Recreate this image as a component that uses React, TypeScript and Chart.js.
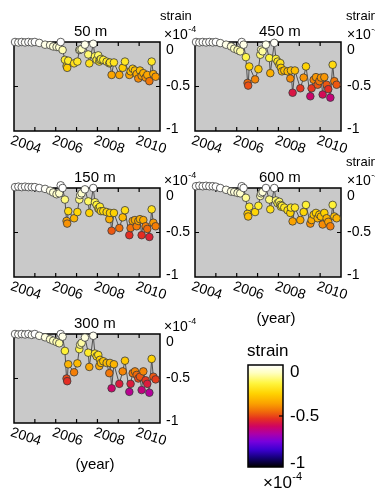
import React, { useEffect, useRef } from 'react';
import { Chart, registerables } from 'chart.js';

Chart.register(...registerables);

const FONT = "'Liberation Sans', Arial, Helvetica, sans-serif";
Chart.defaults.font.family = FONT;

// ---------------- data ----------------
const dates = [
  2003.05, 2003.21, 2003.37, 2003.53, 2003.69, 2003.85, 2004.0,
  2004.21, 2004.49, 2004.73, 2004.88, 2005.04, 2005.17,
  2005.24, 2005.33,
  2005.44, 2005.52, 2005.55, 2005.6,
  2005.88, 2006.04, 2006.13, 2006.17, 2006.24,
  2006.4, 2006.56, 2006.61, 2006.8,
  2006.88, 2006.96, 2007.04, 2007.09, 2007.12, 2007.17, 2007.28,
  2007.44, 2007.57, 2007.6, 2007.68, 2007.79,
  2008.05, 2008.21, 2008.32,
  2008.53, 2008.59, 2008.69, 2008.8, 2008.88, 2008.96, 2009.04,
  2009.12, 2009.2, 2009.31, 2009.39, 2009.49, 2009.6, 2009.68, 2009.79,
];

const strain50m = [
  0, -0.005, 0, -0.005, 0, -0.005, 0,
  -0.01, -0.03, -0.035, -0.05, -0.055, -0.06,
  0.0, -0.09,
  -0.2, -0.27, -0.29, -0.21,
  -0.24, -0.22, -0.09, -0.085, -0.08,
  -0.03, -0.14, -0.24, -0.02,
  -0.16, -0.2, -0.15, -0.22, -0.2, -0.19, -0.2,
  -0.22, -0.24, -0.23, -0.37, -0.23,
  -0.37, -0.29, -0.22,
  -0.37, -0.33, -0.3, -0.32, -0.36, -0.41, -0.32,
  -0.38, -0.35, -0.4, -0.37, -0.44, -0.22, -0.36, -0.39,
];

const strain450m = [
  0, -0.005, 0, -0.005, 0, -0.005, 0,
  -0.012, -0.03, -0.05, -0.075, -0.09, -0.105,
  0.0, -0.03,
  -0.17, -0.46, -0.49, -0.275,
  -0.42, -0.305, -0.143, -0.087, -0.105,
  -0.03, -0.18, -0.35, -0.01,
  -0.19, -0.22, -0.256, -0.237, -0.29, -0.33, -0.32,
  -0.33, -0.41, -0.32, -0.57, -0.32,
  -0.52, -0.4, -0.275,
  -0.61, -0.52, -0.425, -0.395, -0.48, -0.44, -0.4,
  -0.59, -0.395, -0.48, -0.53, -0.625, -0.256, -0.44, -0.48,
];

const strain150m = [
  0.01, 0.015, 0.01, 0.015, 0.01, 0.01, 0.01,
  0.0, -0.01, -0.03, -0.05, -0.07, -0.06,
  0.03, 0.0,
  -0.13, -0.37, -0.4, -0.26,
  -0.34, -0.27, -0.13, -0.08, -0.06,
  -0.015, -0.15, -0.28, 0.0,
  -0.16, -0.19, -0.23, -0.24, -0.21, -0.26, -0.26,
  -0.27, -0.35, -0.28, -0.48, -0.28,
  -0.45, -0.33, -0.25,
  -0.53, -0.45, -0.37, -0.36, -0.43, -0.37, -0.35,
  -0.53, -0.36, -0.43, -0.46, -0.55, -0.24, -0.39, -0.43,
];

const strain600m = [
  0.02, 0.025, 0.02, 0.025, 0.02, 0.02, 0.015,
  0.0, -0.02, -0.04, -0.045, -0.055, -0.06,
  0.02, 0.0,
  -0.11, -0.29, -0.32, -0.21,
  -0.27, -0.2, -0.09, -0.06, -0.045,
  0.0, -0.13, -0.24, 0.0,
  -0.14, -0.17, -0.155, -0.19, -0.21, -0.2, -0.22,
  -0.25, -0.28, -0.22, -0.375, -0.22,
  -0.36, -0.27, -0.19,
  -0.4, -0.36, -0.3, -0.28, -0.34, -0.3, -0.32,
  -0.41, -0.28, -0.34, -0.38, -0.43, -0.19, -0.32, -0.34,
];

const strain300m = [
  0, -0.005, 0, -0.005, 0, -0.01, 0,
  -0.02, -0.037, -0.06, -0.075, -0.09, -0.104,
  0.0, -0.03,
  -0.19, -0.5, -0.53, -0.34,
  -0.43, -0.33, -0.17, -0.12, -0.1,
  -0.04, -0.21, -0.37, -0.02,
  -0.22, -0.25, -0.235, -0.36, -0.29, -0.325, -0.306,
  -0.325, -0.44, -0.325, -0.61, -0.34,
  -0.56, -0.42, -0.3,
  -0.65, -0.56, -0.44, -0.42, -0.46, -0.5, -0.48,
  -0.63, -0.42, -0.52, -0.56, -0.66, -0.28, -0.48, -0.51,
];

const yearLabels = [2004, 2006, 2008, 2010];
const yearMarks = [2004, 2005, 2006, 2007, 2008, 2009];
const xRange = [2003, 2010];
const strainRange = [-1, 0];
const strainTickStep = 0.5;
const strainName = 'strain';
const exponentBase = '×10';
const exponentPower = '-4';
const xAxisName = '(year)';
const colorbarValue = [-1, 0];

// ---------------- colormap ----------------
const cmapStops: number[][] = [
  [0, 255, 255, 255],
  [0.08, 255, 255, 190],
  [0.18, 255, 245, 60],
  [0.28, 255, 210, 0],
  [0.38, 250, 160, 0],
  [0.46, 240, 105, 10],
  [0.53, 228, 45, 35],
  [0.6, 208, 5, 95],
  [0.67, 175, 0, 165],
  [0.75, 120, 0, 220],
  [0.83, 60, 0, 210],
  [0.91, 20, 0, 120],
  [1, 0, 0, 0],
];

function colorFor(v: number): string {
  const t = Math.max(0, Math.min(1, -v));
  for (let i = 1; i < cmapStops.length; i++) {
    const a = cmapStops[i - 1];
    const b = cmapStops[i];
    if (t <= b[0]) {
      const f = (t - a[0]) / (b[0] - a[0]);
      const c = [1, 2, 3].map((k) => Math.round(a[k] + (b[k] - a[k]) * f));
      return `rgb(${c[0]},${c[1]},${c[2]})`;
    }
  }
  return 'rgb(0,0,0)';
}

// ---------------- layout ----------------
type Panel = {
  title: string;
  values: number[];
  left: number;
  top: number;
  w: number;
  h: number;
  titleDx: number;
  strainDx: number;
  expDx: number;
  showStrain: boolean;
  showYear: boolean;
};

const panels: Panel[] = [
  { title: '50 m', values: strain50m, left: 0, top: 0, w: 200, h: 190, titleDx: 60, strainDx: 0, expDx: 4, showStrain: true, showYear: false },
  { title: '450 m', values: strain450m, left: 181, top: 0, w: 200, h: 190, titleDx: 64, strainDx: 5, expDx: 6, showStrain: true, showYear: false },
  { title: '150 m', values: strain150m, left: 0, top: 146, w: 200, h: 190, titleDx: 60, strainDx: 0, expDx: 4, showStrain: false, showYear: false },
  { title: '600 m', values: strain600m, left: 181, top: 146, w: 200, h: 190, titleDx: 64, strainDx: 5, expDx: 6, showStrain: true, showYear: true },
  { title: '300 m', values: strain300m, left: 0, top: 292, w: 200, h: 201, titleDx: 60, strainDx: 0, expDx: 4, showStrain: false, showYear: true },
];

const AREA_LEFT = 14;
const AREA_TOP = 42;
const AREA_RIGHT = 160;
const AREA_BOTTOM = 131;

function drawExponent(ctx: CanvasRenderingContext2D, x: number, y: number, size: number, supSize: number, rise: number) {
  ctx.textAlign = 'left';
  ctx.textBaseline = 'middle';
  ctx.font = `${size}px ${FONT}`;
  ctx.fillText(exponentBase, x, y);
  const w = ctx.measureText(exponentBase).width;
  ctx.font = `${supSize}px ${FONT}`;
  ctx.fillText(exponentPower, x + w + 0.5, y - rise);
}

function makePanel(canvas: HTMLCanvasElement, p: Panel): Chart {
  const decor = {
    id: 'panelDecor',
    beforeDatasetsDraw(chart: any) {
      const { ctx, chartArea: ca, scales } = chart;
      ctx.save();
      ctx.fillStyle = '#c9c9c9';
      ctx.fillRect(ca.left, ca.top, ca.right - ca.left, ca.bottom - ca.top);
      ctx.strokeStyle = '#000';
      ctx.lineWidth = 1.5;
      ctx.strokeRect(ca.left, ca.top, ca.right - ca.left, ca.bottom - ca.top);
      ctx.lineWidth = 1.2;
      ctx.beginPath();
      for (const yr of yearMarks) {
        const px = scales.x.getPixelForValue(yr);
        ctx.moveTo(px, ca.bottom);
        ctx.lineTo(px, ca.bottom - 4);
        ctx.moveTo(px, ca.top);
        ctx.lineTo(px, ca.top + 4);
      }
      const py = scales.y.getPixelForValue(-strainTickStep);
      ctx.moveTo(ca.left, py);
      ctx.lineTo(ca.left + 4, py);
      ctx.moveTo(ca.right, py);
      ctx.lineTo(ca.right - 4, py);
      ctx.stroke();
      ctx.restore();
    },
    afterDraw(chart: any) {
      const { ctx, chartArea: ca, scales } = chart;
      ctx.save();
      ctx.fillStyle = '#000';
      // title
      ctx.font = `15px ${FONT}`;
      ctx.textAlign = 'left';
      ctx.textBaseline = 'middle';
      ctx.fillText(p.title, ca.left + p.titleDx, ca.top - 10);
      // strain label
      if (p.showStrain) {
        ctx.font = `13px ${FONT}`;
        ctx.fillText(strainName, ca.right + p.strainDx, ca.top - 26);
      }
      drawExponent(ctx, ca.right + p.expDx, ca.top - 7, 14, 9, 5);
      // rotated year labels
      ctx.font = `14px ${FONT}`;
      ctx.textAlign = 'center';
      ctx.textBaseline = 'middle';
      for (const yr of yearLabels) {
        const px = scales.x.getPixelForValue(yr);
        ctx.save();
        ctx.translate(px - 9, ca.bottom + 14);
        ctx.rotate((18 * Math.PI) / 180);
        ctx.fillText(String(yr), 0, 0);
        ctx.restore();
      }
      if (p.showYear) {
        ctx.font = `15px ${FONT}`;
        ctx.textAlign = 'center';
        ctx.fillText(xAxisName, (ca.left + ca.right) / 2 + 8, ca.bottom + 42);
      }
      ctx.restore();
    },
  };

  return new Chart(canvas, {
    type: 'scatter',
    data: {
      datasets: [
        {
          data: dates.map((d, i) => ({ x: d, y: p.values[i] })),
          showLine: true,
          borderColor: '#505050',
          borderWidth: 1,
          pointRadius: 3.8,
          pointHoverRadius: 3.8,
          pointBorderColor: '#3a3a3a',
          pointBorderWidth: 0.8,
          pointBackgroundColor: (c: any) => colorFor(c.raw ? c.raw.y : 0),
          clip: false as any,
        } as any,
      ],
    },
    options: {
      responsive: false,
      animation: false,
      devicePixelRatio: 1,
      events: [],
      layout: { padding: { left: AREA_LEFT, top: AREA_TOP, right: 0, bottom: p.h - AREA_BOTTOM } },
      plugins: { legend: { display: false }, tooltip: { enabled: false }, title: { display: false } },
      scales: {
        x: { type: 'linear', min: xRange[0], max: xRange[1], display: false },
        y: {
          type: 'linear',
          position: 'right',
          min: strainRange[0],
          max: strainRange[1],
          afterFit: (s: any) => {
            s.width = p.w - AREA_RIGHT;
          },
          grid: { display: false, drawTicks: false },
          border: { display: false },
          ticks: {
            stepSize: strainTickStep,
            padding: 6,
            color: '#000',
            font: (c: any) => {
              const v = c.tick ? c.tick.value : null;
              return { size: 14, family: FONT, lineHeight: v === 0 ? '16px' : v === -1 ? '4px' : 1.2 };
            },
            callback: (v: any) => (v === 0 ? ['', '0'] : v === -1 ? ['-1', ''] : String(v)),
          },
        },
      },
    } as any,
    plugins: [decor],
  });
}

function makeColorbar(canvas: HTMLCanvasElement): Chart {
  const W = 175;
  const decor = {
    id: 'cbDecor',
    afterDatasetsDraw(chart: any) {
      const { ctx, chartArea: ca, scales } = chart;
      ctx.save();
      ctx.strokeStyle = '#000';
      ctx.lineWidth = 1.5;
      ctx.strokeRect(ca.left, ca.top, ca.right - ca.left, ca.bottom - ca.top);
      const py = scales.y.getPixelForValue(-strainTickStep);
      ctx.lineWidth = 1.2;
      ctx.beginPath();
      ctx.moveTo(ca.right, py);
      ctx.lineTo(ca.right - 4, py);
      ctx.stroke();
      ctx.fillStyle = '#000';
      ctx.font = `17px ${FONT}`;
      ctx.textAlign = 'left';
      ctx.textBaseline = 'middle';
      ctx.fillText(strainName, ca.left - 1, ca.top - 14);
      drawExponent(ctx, ca.left + 15, ca.bottom + 16, 17, 11, 6);
      ctx.restore();
    },
  };
  return new Chart(canvas, {
    type: 'bar',
    data: {
      labels: [strainName],
      datasets: [
        {
          data: [colorbarValue as any],
          borderWidth: 0,
          barPercentage: 1,
          categoryPercentage: 1,
          backgroundColor: (c: any) => {
            const { chart } = c;
            const ca = chart.chartArea;
            if (!ca) return '#fff';
            const g = chart.ctx.createLinearGradient(0, ca.top, 0, ca.bottom);
            for (let i = 0; i <= 40; i++) {
              const t = i / 40;
              g.addColorStop(t, colorFor(-t));
            }
            return g;
          },
        } as any,
      ],
    },
    options: {
      responsive: false,
      animation: false,
      devicePixelRatio: 1,
      events: [],
      layout: { padding: { left: 48, top: 35, right: 0, bottom: 26 } },
      plugins: { legend: { display: false }, tooltip: { enabled: false } },
      scales: {
        x: { display: false },
        y: {
          position: 'right',
          min: strainRange[0],
          max: strainRange[1],
          afterFit: (s: any) => {
            s.width = W - 83;
          },
          grid: { display: false, drawTicks: false },
          border: { display: false },
          ticks: {
            stepSize: strainTickStep,
            padding: 7,
            color: '#000',
            font: (c: any) => {
              const v = c.tick ? c.tick.value : null;
              return { size: 17, family: FONT, lineHeight: v === 0 ? '14px' : v === -1 ? '8px' : 1.2 };
            },
            callback: (v: any) => (v === 0 ? ['', '0'] : v === -1 ? ['-1', ''] : String(v)),
          },
        },
      },
    } as any,
    plugins: [decor],
  });
}

export default function App() {
  const refs = useRef<(HTMLCanvasElement | null)[]>([]);
  const cbRef = useRef<HTMLCanvasElement | null>(null);

  useEffect(() => {
    const charts: Chart[] = [];
    panels.forEach((p, i) => {
      const c = refs.current[i];
      if (c) charts.push(makePanel(c, p));
    });
    if (cbRef.current) charts.push(makeColorbar(cbRef.current));
    return () => {
      charts.forEach((ch) => ch.destroy());
    };
  }, []);

  return (
    <div
      style={{
        position: 'fixed',
        left: 0,
        top: 0,
        width: 375,
        height: 493,
        background: '#fff',
        overflow: 'hidden',
      }}
    >
      {panels.map((p, i) => (
        <canvas
          key={p.title}
          ref={(el) => {
            refs.current[i] = el;
          }}
          width={p.w}
          height={p.h}
          style={{ position: 'absolute', left: p.left, top: p.top, width: p.w, height: p.h }}
        />
      ))}
      <canvas
        ref={cbRef}
        width={175}
        height={163}
        style={{ position: 'absolute', left: 200, top: 330, width: 175, height: 163 }}
      />
    </div>
  );
}
